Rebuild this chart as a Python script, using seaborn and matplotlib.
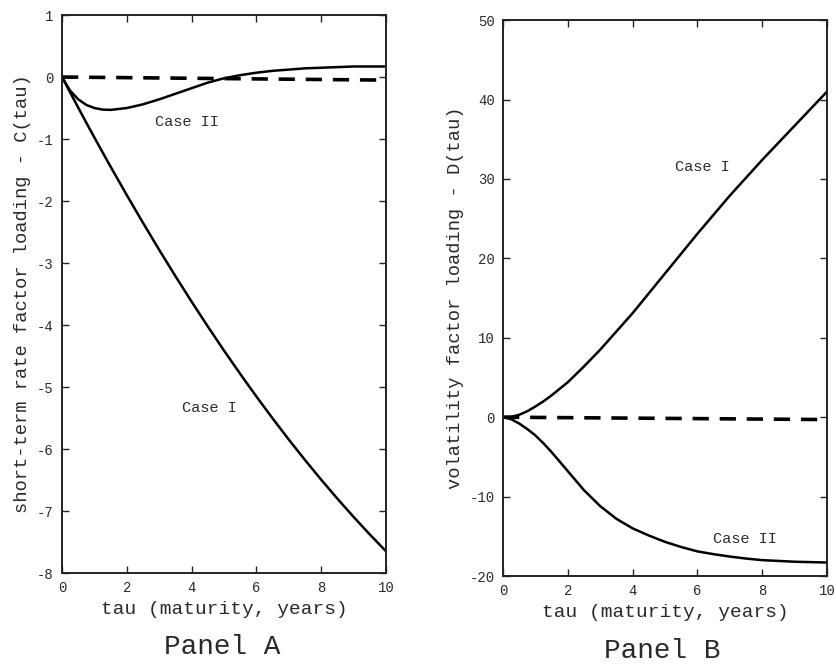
import matplotlib
matplotlib.use("Agg")
import pandas as pd
import matplotlib.pyplot as plt
import seaborn as sns

# maturity grid (years)
tau = [0, 0.25, 0.5, 0.75, 1, 1.25, 1.5, 2, 2.5, 3, 3.5, 4, 4.5, 5,
       5.5, 6, 6.5, 7, 7.5, 8, 8.5, 9, 9.5, 10]

# Panel A: short-term rate factor loading C(tau)
c_case1 = [0, -0.248, -0.494, -0.737, -0.977, -1.213, -1.447, -1.906, -2.353,
           -2.789, -3.212, -3.624, -4.024, -4.413, -4.789, -5.154, -5.507,
           -5.849, -6.178, -6.496, -6.802, -7.096, -7.379, -7.65]
c_case2 = [0, -0.22, -0.36, -0.45, -0.5, -0.525, -0.53, -0.5, -0.44, -0.36,
           -0.27, -0.18, -0.09, -0.02, 0.03, 0.07, 0.10, 0.12, 0.14, 0.15,
           0.16, 0.17, 0.17, 0.17]

# Panel B: volatility factor loading D(tau)
d_case1 = [0, 0.05, 0.3, 0.75, 1.35, 2.0, 2.75, 4.4, 6.4, 8.5, 10.8, 13.1,
           15.6, 18.1, 20.6, 23.1, 25.5, 27.9, 30.15, 32.4, 34.55, 36.7,
           38.85, 41.0]
d_case2 = [0, -0.25, -0.8, -1.5, -2.3, -3.3, -4.4, -6.8, -9.2, -11.2, -12.8,
           -14.0, -14.9, -15.7, -16.35, -16.9, -17.25, -17.55, -17.8, -18.0,
           -18.1, -18.2, -18.25, -18.3]

# dashed reference lines (straight, near zero)
zero_tau = [0, 10]
c_zero = [0, -0.05]
d_zero = [0, -0.3]

sns.set_style("ticks")
plt.rcParams["font.family"] = ["Liberation Mono", "DejaVu Sans Mono"]
plt.rcParams["axes.unicode_minus"] = False
txt = "#2a2a2a"

fig = plt.figure(figsize=(8.36, 6.65), dpi=100)
ax_a = fig.add_axes([0.0742, 0.1383, 0.3876, 0.8391])
ax_b = fig.add_axes([0.6017, 0.1338, 0.3876, 0.8360])

df_a = pd.DataFrame({"tau": tau, "c1": c_case1, "c2": c_case2})
df_b = pd.DataFrame({"tau": tau, "d1": d_case1, "d2": d_case2})
df_z = pd.DataFrame({"tau": zero_tau, "c0": c_zero, "d0": d_zero})

for col in ["c1", "c2"]:
    sns.lineplot(data=df_a, x="tau", y=col, ax=ax_a, color="black", lw=1.8)
sns.lineplot(data=df_z, x="tau", y="c0", ax=ax_a, color="black", lw=2.6,
             linestyle=(0, (4.5, 3)))
for col in ["d1", "d2"]:
    sns.lineplot(data=df_b, x="tau", y=col, ax=ax_b, color="black", lw=1.8)
sns.lineplot(data=df_z, x="tau", y="d0", ax=ax_b, color="black", lw=2.6,
             linestyle=(0, (4.5, 3)))

ax_a.set_xlim(0, 10)
ax_a.set_ylim(-8, 1)
ax_a.set_yticks(range(-8, 2))
ax_b.set_xlim(0, 10)
ax_b.set_ylim(-20, 50)
ax_b.set_yticks(range(-20, 51, 10))

for ax in (ax_a, ax_b):
    ax.set_xticks(range(0, 11, 2))
    ax.tick_params(direction="in", top=True, right=True, length=5, width=1,
                   labelsize=10, labelcolor=txt, pad=6)
    for s in ax.spines.values():
        s.set_linewidth(1.4)
        s.set_color("#222222")
    ax.set_xlabel("tau (maturity, years)", fontsize=14, color=txt, labelpad=4)

ax_a.set_ylabel("short-term rate factor loading - C(tau)", fontsize=13.5,
                color=txt, labelpad=4)
ax_b.set_ylabel("volatility factor loading - D(tau)", fontsize=13.5,
                color=txt, labelpad=4)

ax_a.text(3.86, -0.73, "Case II", fontsize=11, color=txt, ha="center", va="center")
ax_a.text(4.55, -5.34, "Case I", fontsize=11, color=txt, ha="center", va="center")
ax_b.text(6.14, 31.5, "Case I", fontsize=11, color=txt, ha="center", va="center")
ax_b.text(7.47, -15.4, "Case II", fontsize=11, color=txt, ha="center", va="center")

fig.text(0.266, 0.016, "Panel A", fontsize=20, color=txt, ha="center", va="baseline")
fig.text(0.792, 0.011, "Panel B", fontsize=20, color=txt, ha="center", va="baseline")

fig.savefig("out.png", dpi=100)
